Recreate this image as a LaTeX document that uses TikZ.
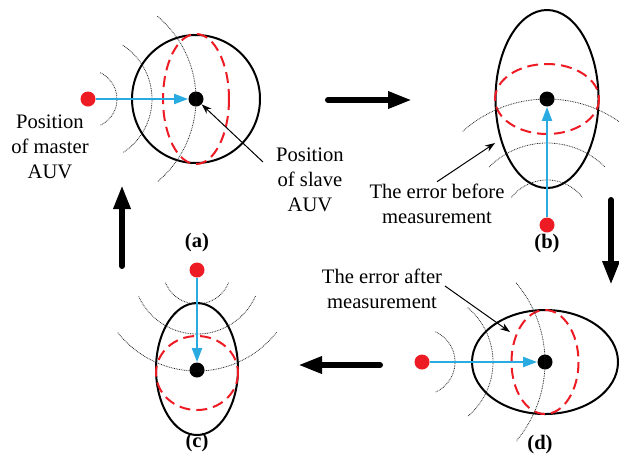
\documentclass[tikz,border=0pt]{standalone}
\usepackage{fontspec}
\setmainfont{Liberation Serif}
\usetikzlibrary{arrows.meta}
\definecolor{dotred}{RGB}{237,28,36}
\definecolor{sigblue}{RGB}{41,171,226}

\begin{document}
\begin{tikzpicture}[x=0.5pt,y=-0.5pt,
  font=\fontsize{10.3}{12.5}\selectfont,
  master/.style={circle,fill=dotred,inner sep=0pt,minimum size=7.5pt},
  slave/.style={circle,fill=black,inner sep=0pt,minimum size=7.5pt},
  bound/.style={line width=1pt},
  err/.style={dotred,line width=1pt,dash pattern=on 5.5pt off 3pt},
  wave/.style={line width=0.4pt,black!85,dash pattern=on 0.4pt off 0.45pt},
  signal/.style={sigblue,line width=1pt,-{Triangle[length=7pt,width=5pt]}},
  flow/.style={line width=3pt,line cap=round,-{Triangle[length=12pt,width=8pt]}},
  pointer/.style={line width=0.5pt,-{Stealth[length=5pt,width=3.5pt]}},
  caption/.style={font=\fontsize{10.3}{12.5}\selectfont\bfseries}]
  \useasboundingbox (0,0) rectangle (619,456);

  % (a)
  \node[master] (ma) at (88,99) {};
  \node[slave] (sa) at (196,99) {};
  \draw[bound] (sa) circle (64);
  \draw[err] (sa) ellipse (33 and 65);
  \foreach \r/\a in {29/65,64/57,108/50}
    \draw[wave] (ma) ++(-\a:\r) arc[start angle=-\a,end angle=\a,radius=\r];
  \draw[signal] (ma) -- (sa);
  \node[align=center] (mtxt) at (50,147) {Position\\of master\\AUV};
  \node[align=center] (stxt) at (310,180) {Position\\of slave\\AUV};
  \coordinate (stail) at (263,162);
  \draw[pointer] (stail) -- (sa);
  \node[caption] (capa) at (197,243) {(a)};

  % (b)
  \node[master] (mb) at (547,225) {};
  \node[slave] (sb) at (547,99) {};
  \draw[bound] (sb) ellipse (51.5 and 89);
  \draw[err] (sb) ellipse (52 and 35);
  \foreach \r/\a in {45/38,82/45,126/48}
    \draw[wave] (mb) ++(-180+\a:\r) arc[start angle=-180+\a,end angle=-\a,radius=\r];
  \draw[signal] (mb) -- (sb);
  \node[align=center,inner sep=1pt] (btxt) at (437,204) {The error before\\measurement};
  \coordinate (btip) at (495,143);
  \draw[pointer] (btxt.north) -- (btip);
  \node[caption] (capb) at (547,244) {(b)};

  % (c)
  \node[master] (mc) at (197,270) {};
  \node[slave] (sc) at (197,370) {};
  \draw[bound] (197,369) ellipse (41 and 66);
  \draw[err] (197,373) ellipse (41 and 37);
  \foreach \r/\a in {34/22,64/24,101/38}
    \draw[wave] (mc) ++(\a:\r) arc[start angle=\a,end angle=180-\a,radius=\r];
  \draw[signal] (mc) -- (sc);
  \node[caption] (capc) at (197,443) {(c)};

  % (d)
  \node[master] (md) at (422,362) {};
  \node[slave] (sd) at (545,362) {};
  \draw[bound] (sd) ellipse (73 and 52);
  \draw[err] (sd) ellipse (33.5 and 52);
  \foreach \r/\a in {33/66,71/50,123/40}
    \draw[wave] (md) ++(-\a:\r) arc[start angle=-\a,end angle=\a,radius=\r];
  \draw[signal] (md) -- (sd);
  \node[align=center] (dtxt) at (382,289) {The error after\\measurement};
  \coordinate (dtail) at (445,286);
  \coordinate (dtip) at (510,332);
  \draw[pointer] (dtail) -- (dtip);
  \node[caption] (capd) at (540,445) {(d)};

  % cycle
  \coordinate (ab1) at (328,100); \coordinate (ab2) at (412,100);
  \coordinate (bd1) at (611,200); \coordinate (bd2) at (611,285);
  \coordinate (dc1) at (380,365); \coordinate (dc2) at (298,365);
  \coordinate (ca1) at (122,266); \coordinate (ca2) at (122,185);
  \draw[flow] (ab1) -- (ab2);
  \draw[flow] (bd1) -- (bd2);
  \draw[flow] (dc1) -- (dc2);
  \draw[flow] (ca1) -- (ca2);
\end{tikzpicture}
\end{document}
